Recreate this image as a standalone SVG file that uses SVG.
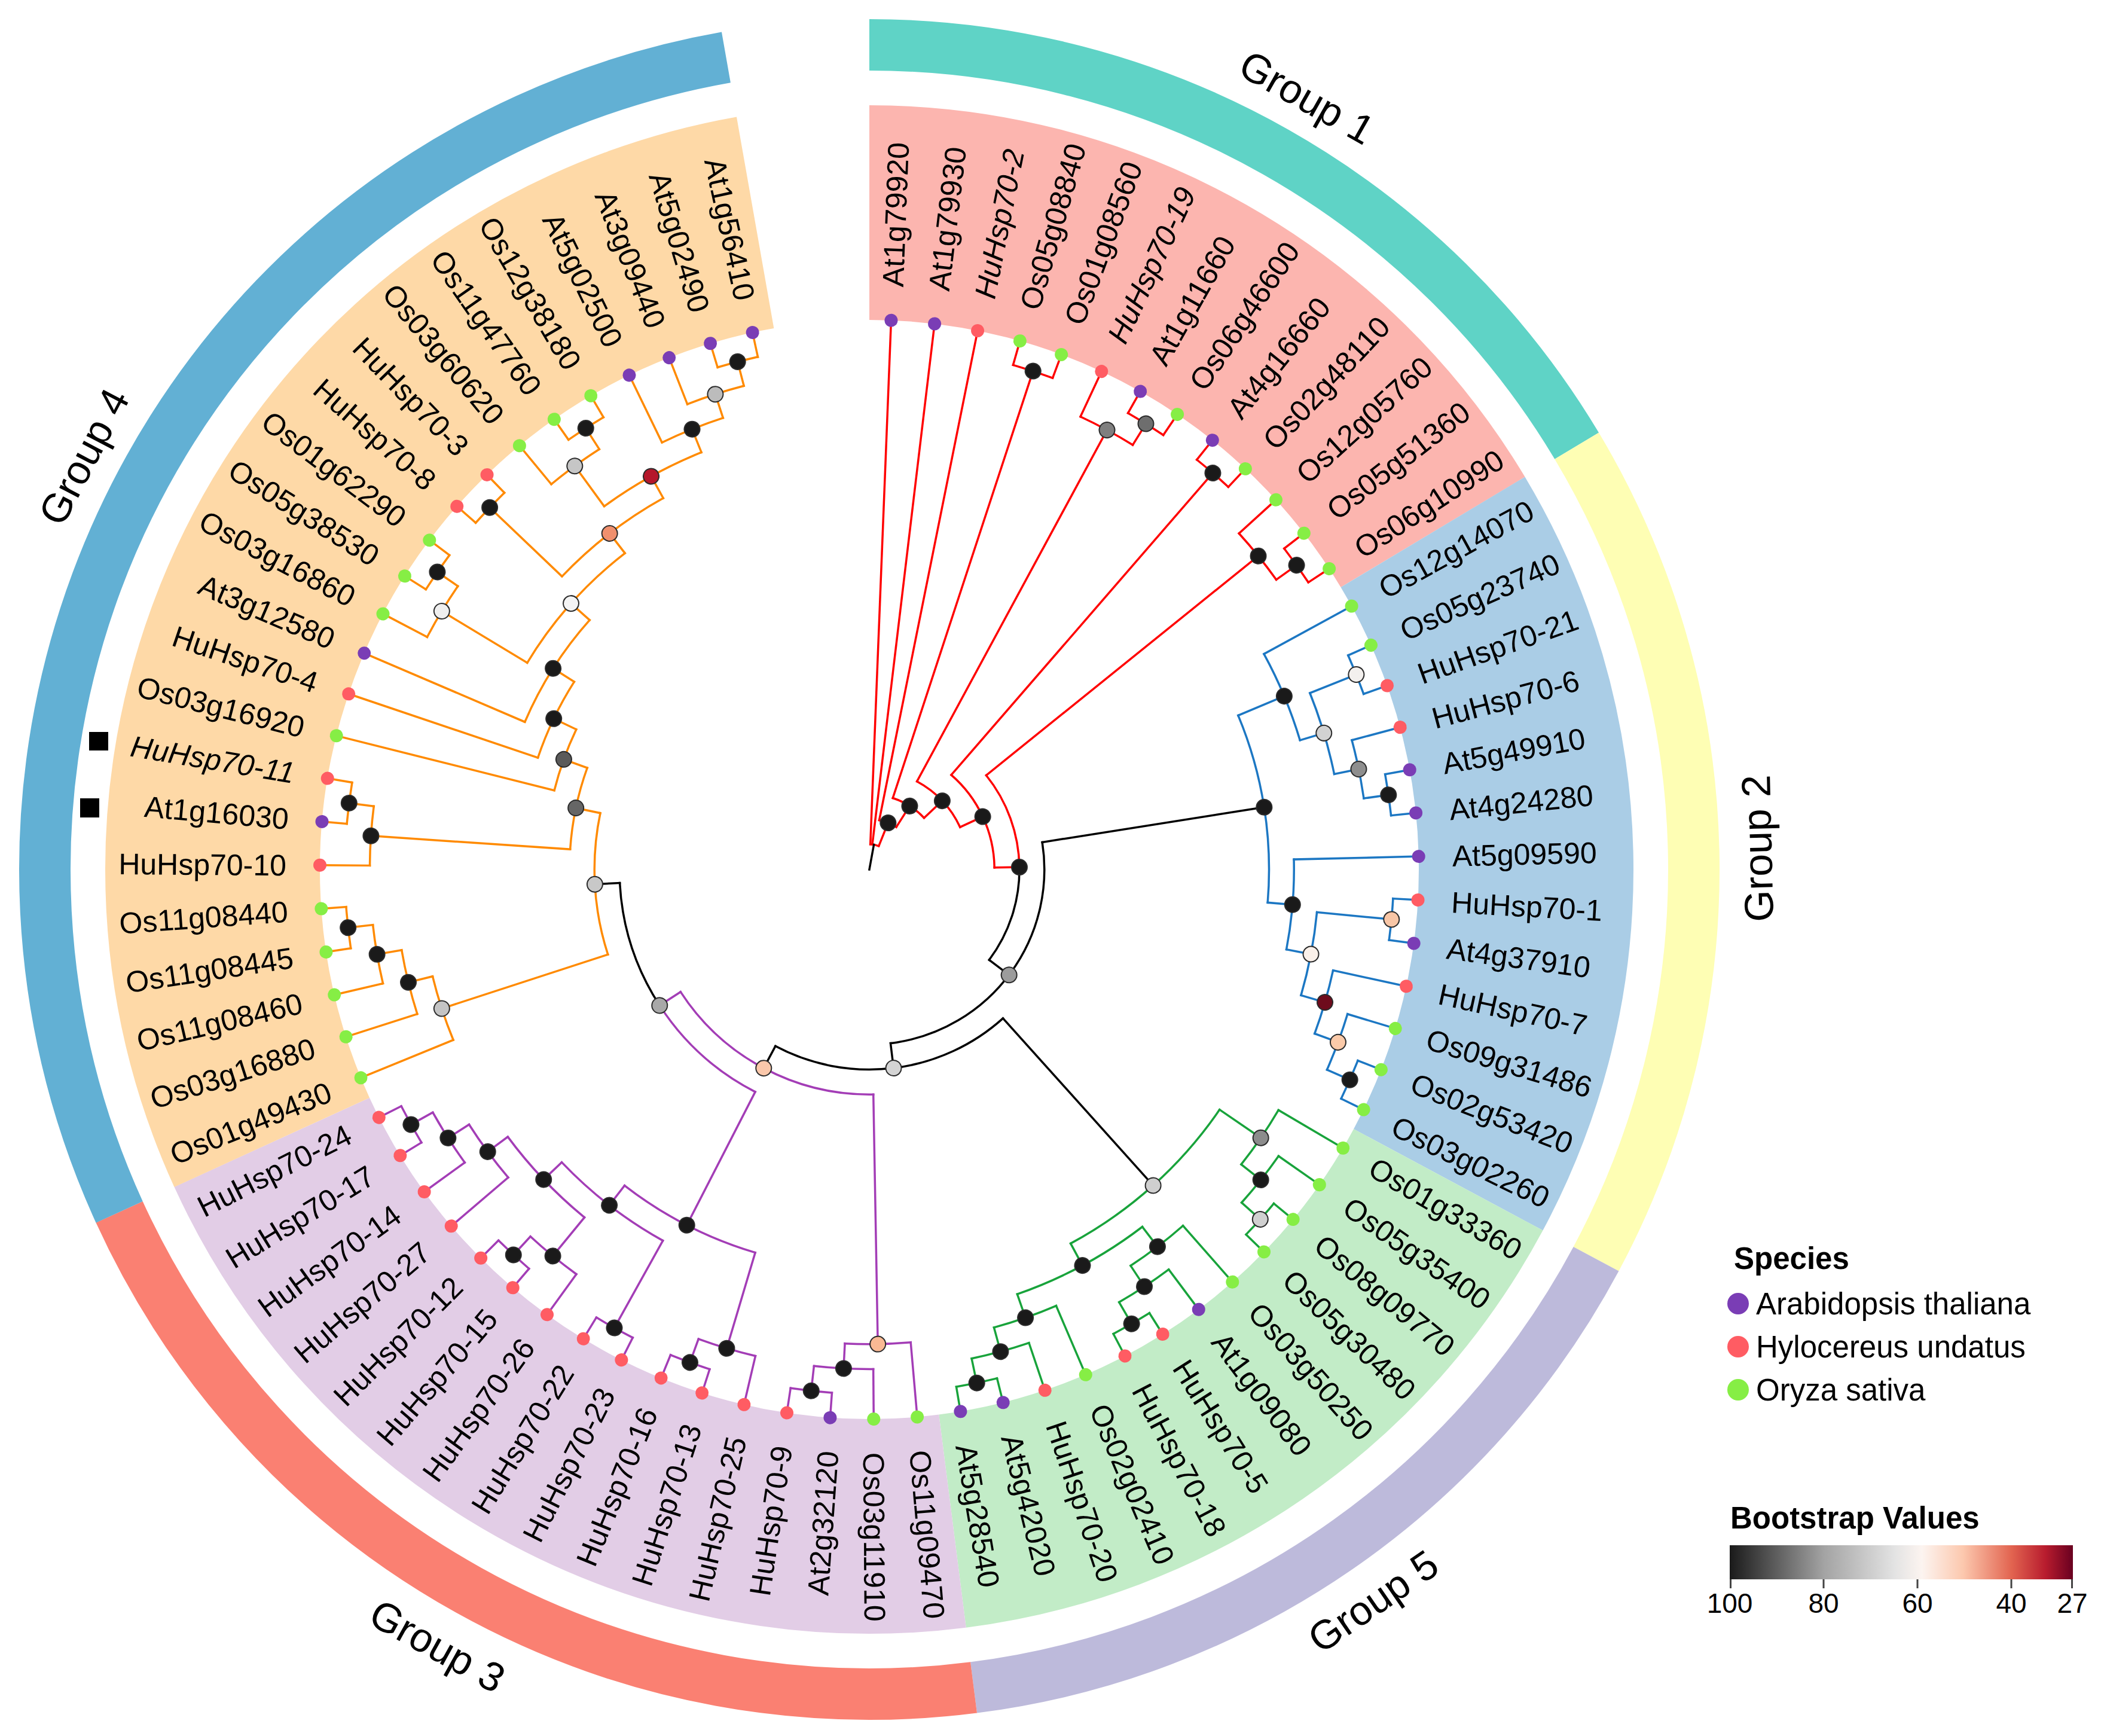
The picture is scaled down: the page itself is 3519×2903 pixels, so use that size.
<svg xmlns="http://www.w3.org/2000/svg" width="3519" height="2903" viewBox="0 0 3519 2903">
<defs>
<linearGradient id="bs" x1="0" x2="1" y1="0" y2="0">
<stop offset="0" stop-color="#1a1a1a"/><stop offset="0.274" stop-color="#a3a3a3"/><stop offset="0.48" stop-color="#e3e3e3"/><stop offset="0.56" stop-color="#fcf4f0"/><stop offset="0.68" stop-color="#fcc8ae"/><stop offset="0.821" stop-color="#e26450"/><stop offset="0.92" stop-color="#b81c2e"/><stop offset="1" stop-color="#690020"/>
</linearGradient>
<style>
text{font-family:"Liberation Sans",Arial,Helvetica,sans-serif;fill:#000}
.lb{font-size:50px}
.it{font-style:italic}
.gl{font-size:68px}
.c line,.c circle{fill:none;stroke-width:3.5;stroke-linecap:square}
.R{stroke:#ff0000}.B{stroke:#1c77c3}.G{stroke:#18a33b}.P{stroke:#a33db6}.O{stroke:#ff8a00}.K{stroke:#000}
.n{stroke:#2b2b2b;stroke-width:2}
.sa{fill:#7a3db5}.sh{fill:#ff5c63}.so{fill:#86ee45}
.band{fill:none;stroke-width:86}
.wedge{fill:none;stroke-width:359}
.lg{font-size:51px}
.bt{font-size:51px;font-weight:bold}
.tk{font-size:46px}
</style>
</defs>
<rect width="3519" height="2903" fill="#fff"/>
<g transform="translate(1454 1454)">
<g id="bands">
<circle class="band" r="1379" pathLength="360" stroke-dasharray="59.091 400" stroke="#5fd3c6" transform="rotate(-90)"/>
<circle class="band" r="1379" pathLength="360" stroke-dasharray="59.091 400" stroke="#fefeb4" transform="rotate(-30.909)"/>
<circle class="band" r="1379" pathLength="360" stroke-dasharray="54.545 400" stroke="#bdbadb" transform="rotate(28.182)"/>
<circle class="band" r="1379" pathLength="360" stroke-dasharray="72.728 400" stroke="#fa8072" transform="rotate(82.727)"/>
<circle class="band" r="1379" pathLength="360" stroke-dasharray="104.545 400" stroke="#62b0d4" transform="rotate(155.455)"/>
</g>
<g id="wedges">
<circle class="wedge" r="1098.5" pathLength="360" stroke-dasharray="59.091 400" stroke="#fcb5af" transform="rotate(-90)"/>
<circle class="wedge" r="1098.5" pathLength="360" stroke-dasharray="59.091 400" stroke="#aacde6" transform="rotate(-30.909)"/>
<circle class="wedge" r="1098.5" pathLength="360" stroke-dasharray="54.545 400" stroke="#c2ecc7" transform="rotate(28.182)"/>
<circle class="wedge" r="1098.5" pathLength="360" stroke-dasharray="72.728 400" stroke="#e2cde6" transform="rotate(82.727)"/>
<circle class="wedge" r="1098.5" pathLength="360" stroke-dasharray="104.545 400" stroke="#fed9a7" transform="rotate(155.455)"/>
</g>
<g id="group-labels">
<text class="gl" text-anchor="middle" y="-1485" dy=".36em" transform="rotate(29.545)">Group 1</text>
<text class="gl" text-anchor="middle" y="1485" dy=".36em" transform="rotate(-91.364)">Group 2</text>
<text class="gl" text-anchor="middle" y="1485" dy=".36em" transform="rotate(-34.545)">Group 5</text>
<text class="gl" text-anchor="middle" y="1485" dy=".36em" transform="rotate(29.091)">Group 3</text>
<text class="gl" text-anchor="middle" y="-1485" dy=".36em" transform="rotate(297.727)">Group 4</text>
</g>
<g id="connectors" class="c">
<g class="R">
<circle r="42.25" pathLength="360" stroke-dasharray="19.63 400" transform="rotate(-87.727)"/>
<circle r="84" pathLength="360" stroke-dasharray="21.079 400" transform="rotate(-78.636)"/>
<circle r="125.75" pathLength="360" stroke-dasharray="28.522 400" transform="rotate(-71.818)"/>
<circle r="167.5" pathLength="360" stroke-dasharray="36.589 400" transform="rotate(-61.591)"/>
<circle r="209.25" pathLength="360" stroke-dasharray="48.178 400" transform="rotate(-49.091)"/>
<circle r="251" pathLength="360" stroke-dasharray="37.951 400" transform="rotate(-38.864)"/>
<circle r="877.25" pathLength="360" stroke-dasharray="4.546 400" transform="rotate(-74.091)"/>
<circle r="835.5" pathLength="360" stroke-dasharray="6.818 400" transform="rotate(-65)"/>
<circle r="877.25" pathLength="360" stroke-dasharray="4.546 400" transform="rotate(-60.455)"/>
<circle r="877.25" pathLength="360" stroke-dasharray="4.546 400" transform="rotate(-51.364)"/>
<circle r="835.5" pathLength="360" stroke-dasharray="6.818 400" transform="rotate(-42.273)"/>
<circle r="877.25" pathLength="360" stroke-dasharray="4.545 400" transform="rotate(-37.727)"/>
<line y1="-42.25" y2="-919" transform="rotate(2.273)"/>
<line y1="-42.25" y2="-919" transform="rotate(6.818)"/>
<line y1="-42.25" y2="-84" transform="rotate(21.903)"/>
<line y1="-84" y2="-919" transform="rotate(11.364)"/>
<line y1="-84" y2="-125.75" transform="rotate(32.443)"/>
<line y1="-125.75" y2="-877.25" transform="rotate(18.182)"/>
<line y1="-125.75" y2="-167.5" transform="rotate(46.704)"/>
<line y1="-167.5" y2="-835.5" transform="rotate(28.409)"/>
<line y1="-167.5" y2="-209.25" transform="rotate(64.998)"/>
<line y1="-209.25" y2="-877.25" transform="rotate(40.909)"/>
<line y1="-209.25" y2="-251" transform="rotate(89.087)"/>
<line y1="-251" y2="-835.5" transform="rotate(51.136)"/>
<line y1="-877.25" y2="-919" transform="rotate(15.909)"/>
<line y1="-877.25" y2="-919" transform="rotate(20.455)"/>
<line y1="-835.5" y2="-919" transform="rotate(25)"/>
<line y1="-835.5" y2="-877.25" transform="rotate(31.818)"/>
<line y1="-877.25" y2="-919" transform="rotate(29.545)"/>
<line y1="-877.25" y2="-919" transform="rotate(34.091)"/>
<line y1="-877.25" y2="-919" transform="rotate(38.636)"/>
<line y1="-877.25" y2="-919" transform="rotate(43.182)"/>
<line y1="-835.5" y2="-919" transform="rotate(47.727)"/>
<line y1="-835.5" y2="-877.25" transform="rotate(54.545)"/>
<line y1="-877.25" y2="-919" transform="rotate(52.273)"/>
<line y1="-877.25" y2="-919" transform="rotate(56.818)"/>
</g>
<g class="K">
<line y1="0" y2="-42.25" transform="rotate(10.33)"/>
<circle r="251" pathLength="360" stroke-dasharray="37.952 400" transform="rotate(-0.913)"/>
<line y1="-251" y2="-292.75" transform="rotate(127.039)"/>
<circle r="292.75" pathLength="360" stroke-dasharray="92.003 400" transform="rotate(-8.963)"/>
<line y1="-292.75" y2="-668.5" transform="rotate(81.037)"/>
<line y1="-292.75" y2="-334.5" transform="rotate(173.04)"/>
<circle r="334.5" pathLength="360" stroke-dasharray="69.943 400" transform="rotate(48.068)"/>
<line y1="-334.5" y2="-710.25" transform="rotate(138.068)"/>
<line y1="-334.5" y2="-376.25" transform="rotate(208.011)"/>
<circle r="418" pathLength="360" stroke-dasharray="29.871 400" transform="rotate(147.044)"/>
<line y1="-418" y2="-459.75" transform="rotate(266.915)"/>
</g>
<g class="B">
<circle r="668.5" pathLength="360" stroke-dasharray="27.414 400" transform="rotate(-22.67)"/>
<line y1="-668.5" y2="-752" transform="rotate(67.33)"/>
<line y1="-668.5" y2="-710.25" transform="rotate(94.744)"/>
<circle r="752" pathLength="360" stroke-dasharray="11.931 400" transform="rotate(-28.636)"/>
<line y1="-752" y2="-919" transform="rotate(61.364)"/>
<line y1="-752" y2="-793.75" transform="rotate(73.295)"/>
<circle r="793.75" pathLength="360" stroke-dasharray="10.227 400" transform="rotate(-21.818)"/>
<line y1="-793.75" y2="-877.25" transform="rotate(68.182)"/>
<line y1="-793.75" y2="-835.5" transform="rotate(78.409)"/>
<circle r="877.25" pathLength="360" stroke-dasharray="4.546 400" transform="rotate(-24.091)"/>
<line y1="-877.25" y2="-919" transform="rotate(65.909)"/>
<line y1="-877.25" y2="-919" transform="rotate(70.455)"/>
<circle r="835.5" pathLength="360" stroke-dasharray="6.818 400" transform="rotate(-15)"/>
<line y1="-835.5" y2="-919" transform="rotate(75)"/>
<line y1="-835.5" y2="-877.25" transform="rotate(81.818)"/>
<circle r="877.25" pathLength="360" stroke-dasharray="4.546 400" transform="rotate(-10.455)"/>
<line y1="-877.25" y2="-919" transform="rotate(79.545)"/>
<line y1="-877.25" y2="-919" transform="rotate(84.091)"/>
<circle r="710.25" pathLength="360" stroke-dasharray="12.216 400" transform="rotate(-1.364)"/>
<line y1="-710.25" y2="-919" transform="rotate(88.636)"/>
<line y1="-710.25" y2="-752" transform="rotate(100.852)"/>
<circle r="752" pathLength="360" stroke-dasharray="10.795 400" transform="rotate(5.455)"/>
<line y1="-752" y2="-877.25" transform="rotate(95.455)"/>
<line y1="-752" y2="-793.75" transform="rotate(106.25)"/>
<circle r="877.25" pathLength="360" stroke-dasharray="4.545 400" transform="rotate(3.182)"/>
<line y1="-877.25" y2="-919" transform="rotate(93.182)"/>
<line y1="-877.25" y2="-919" transform="rotate(97.727)"/>
<circle r="793.75" pathLength="360" stroke-dasharray="7.954 400" transform="rotate(12.273)"/>
<line y1="-793.75" y2="-919" transform="rotate(102.273)"/>
<line y1="-793.75" y2="-835.5" transform="rotate(110.227)"/>
<circle r="835.5" pathLength="360" stroke-dasharray="6.818 400" transform="rotate(16.818)"/>
<line y1="-835.5" y2="-919" transform="rotate(106.818)"/>
<line y1="-835.5" y2="-877.25" transform="rotate(113.636)"/>
<circle r="877.25" pathLength="360" stroke-dasharray="4.545 400" transform="rotate(21.364)"/>
<line y1="-877.25" y2="-919" transform="rotate(111.364)"/>
<line y1="-877.25" y2="-919" transform="rotate(115.909)"/>
</g>
<g class="G">
<circle r="710.25" pathLength="360" stroke-dasharray="27.273 400" transform="rotate(34.432)"/>
<line y1="-710.25" y2="-793.75" transform="rotate(124.432)"/>
<line y1="-710.25" y2="-752" transform="rotate(151.705)"/>
<circle r="793.75" pathLength="360" stroke-dasharray="7.954 400" transform="rotate(30.455)"/>
<line y1="-793.75" y2="-919" transform="rotate(120.455)"/>
<line y1="-793.75" y2="-835.5" transform="rotate(128.409)"/>
<circle r="835.5" pathLength="360" stroke-dasharray="6.818 400" transform="rotate(35)"/>
<line y1="-835.5" y2="-919" transform="rotate(125)"/>
<line y1="-835.5" y2="-877.25" transform="rotate(131.818)"/>
<circle r="877.25" pathLength="360" stroke-dasharray="4.546 400" transform="rotate(39.545)"/>
<line y1="-877.25" y2="-919" transform="rotate(129.545)"/>
<line y1="-877.25" y2="-919" transform="rotate(134.091)"/>
<circle r="752" pathLength="360" stroke-dasharray="18.181 400" transform="rotate(52.614)"/>
<line y1="-752" y2="-793.75" transform="rotate(142.614)"/>
<line y1="-752" y2="-793.75" transform="rotate(160.795)"/>
<circle r="793.75" pathLength="360" stroke-dasharray="7.955 400" transform="rotate(48.636)"/>
<line y1="-793.75" y2="-919" transform="rotate(138.636)"/>
<line y1="-793.75" y2="-835.5" transform="rotate(146.591)"/>
<circle r="835.5" pathLength="360" stroke-dasharray="6.818 400" transform="rotate(53.182)"/>
<line y1="-835.5" y2="-919" transform="rotate(143.182)"/>
<line y1="-835.5" y2="-877.25" transform="rotate(150)"/>
<circle r="877.25" pathLength="360" stroke-dasharray="4.546 400" transform="rotate(57.727)"/>
<line y1="-877.25" y2="-919" transform="rotate(147.727)"/>
<line y1="-877.25" y2="-919" transform="rotate(152.273)"/>
<circle r="793.75" pathLength="360" stroke-dasharray="7.955 400" transform="rotate(66.818)"/>
<line y1="-793.75" y2="-919" transform="rotate(156.818)"/>
<line y1="-793.75" y2="-835.5" transform="rotate(164.773)"/>
<circle r="835.5" pathLength="360" stroke-dasharray="6.818 400" transform="rotate(71.364)"/>
<line y1="-835.5" y2="-919" transform="rotate(161.364)"/>
<line y1="-835.5" y2="-877.25" transform="rotate(168.182)"/>
<circle r="877.25" pathLength="360" stroke-dasharray="4.546 400" transform="rotate(75.909)"/>
<line y1="-877.25" y2="-919" transform="rotate(165.909)"/>
<line y1="-877.25" y2="-919" transform="rotate(170.455)"/>
</g>
<g class="P">
<circle r="376.25" pathLength="360" stroke-dasharray="58.067 400" transform="rotate(88.977)"/>
<line y1="-376.25" y2="-793.75" transform="rotate(178.977)"/>
<line y1="-376.25" y2="-418" transform="rotate(237.044)"/>
<circle r="418" pathLength="360" stroke-dasharray="29.871 400" transform="rotate(117.173)"/>
<line y1="-418" y2="-668.5" transform="rotate(207.173)"/>
<circle r="793.75" pathLength="360" stroke-dasharray="7.955 400" transform="rotate(85)"/>
<line y1="-793.75" y2="-919" transform="rotate(175)"/>
<line y1="-793.75" y2="-835.5" transform="rotate(182.955)"/>
<circle r="835.5" pathLength="360" stroke-dasharray="6.819 400" transform="rotate(89.545)"/>
<line y1="-835.5" y2="-919" transform="rotate(179.545)"/>
<line y1="-835.5" y2="-877.25" transform="rotate(186.364)"/>
<circle r="877.25" pathLength="360" stroke-dasharray="4.545 400" transform="rotate(94.091)"/>
<line y1="-877.25" y2="-919" transform="rotate(184.091)"/>
<line y1="-877.25" y2="-919" transform="rotate(188.636)"/>
<circle r="668.5" pathLength="360" stroke-dasharray="21.165 400" transform="rotate(106.591)"/>
<line y1="-668.5" y2="-835.5" transform="rotate(196.591)"/>
<line y1="-668.5" y2="-710.25" transform="rotate(217.756)"/>
<circle r="835.5" pathLength="360" stroke-dasharray="6.818 400" transform="rotate(103.182)"/>
<line y1="-835.5" y2="-919" transform="rotate(193.182)"/>
<line y1="-835.5" y2="-877.25" transform="rotate(200)"/>
<circle r="877.25" pathLength="360" stroke-dasharray="4.546 400" transform="rotate(107.727)"/>
<line y1="-877.25" y2="-919" transform="rotate(197.727)"/>
<line y1="-877.25" y2="-919" transform="rotate(202.273)"/>
<circle r="710.25" pathLength="360" stroke-dasharray="17.329 400" transform="rotate(119.091)"/>
<line y1="-710.25" y2="-877.25" transform="rotate(209.091)"/>
<line y1="-710.25" y2="-752" transform="rotate(226.42)"/>
<circle r="877.25" pathLength="360" stroke-dasharray="4.546 400" transform="rotate(116.818)"/>
<line y1="-877.25" y2="-919" transform="rotate(206.818)"/>
<line y1="-877.25" y2="-919" transform="rotate(211.364)"/>
<circle r="752" pathLength="360" stroke-dasharray="14.205 400" transform="rotate(129.318)"/>
<line y1="-752" y2="-835.5" transform="rotate(219.318)"/>
<line y1="-752" y2="-793.75" transform="rotate(233.523)"/>
<circle r="835.5" pathLength="360" stroke-dasharray="6.818 400" transform="rotate(125.909)"/>
<line y1="-835.5" y2="-919" transform="rotate(215.909)"/>
<line y1="-835.5" y2="-877.25" transform="rotate(222.727)"/>
<circle r="877.25" pathLength="360" stroke-dasharray="4.545 400" transform="rotate(130.455)"/>
<line y1="-877.25" y2="-919" transform="rotate(220.455)"/>
<line y1="-877.25" y2="-919" transform="rotate(225)"/>
<circle r="793.75" pathLength="360" stroke-dasharray="7.955 400" transform="rotate(139.545)"/>
<line y1="-793.75" y2="-919" transform="rotate(229.545)"/>
<line y1="-793.75" y2="-835.5" transform="rotate(237.5)"/>
<circle r="835.5" pathLength="360" stroke-dasharray="6.818 400" transform="rotate(144.091)"/>
<line y1="-835.5" y2="-919" transform="rotate(234.091)"/>
<line y1="-835.5" y2="-877.25" transform="rotate(240.909)"/>
<circle r="877.25" pathLength="360" stroke-dasharray="4.546 400" transform="rotate(148.636)"/>
<line y1="-877.25" y2="-919" transform="rotate(238.636)"/>
<line y1="-877.25" y2="-919" transform="rotate(243.182)"/>
</g>
<g class="O">
<circle r="459.75" pathLength="360" stroke-dasharray="29.851 400" transform="rotate(161.989)"/>
<line y1="-459.75" y2="-752" transform="rotate(251.989)"/>
<line y1="-459.75" y2="-501.5" transform="rotate(281.84)"/>
<circle r="752" pathLength="360" stroke-dasharray="8.523 400" transform="rotate(157.727)"/>
<line y1="-752" y2="-919" transform="rotate(247.727)"/>
<line y1="-752" y2="-793.75" transform="rotate(256.25)"/>
<circle r="793.75" pathLength="360" stroke-dasharray="7.954 400" transform="rotate(162.273)"/>
<line y1="-793.75" y2="-919" transform="rotate(252.273)"/>
<line y1="-793.75" y2="-835.5" transform="rotate(260.227)"/>
<circle r="835.5" pathLength="360" stroke-dasharray="6.818 400" transform="rotate(166.818)"/>
<line y1="-835.5" y2="-919" transform="rotate(256.818)"/>
<line y1="-835.5" y2="-877.25" transform="rotate(263.636)"/>
<circle r="877.25" pathLength="360" stroke-dasharray="4.545 400" transform="rotate(171.364)"/>
<line y1="-877.25" y2="-919" transform="rotate(261.364)"/>
<line y1="-877.25" y2="-919" transform="rotate(265.909)"/>
<circle r="501.5" pathLength="360" stroke-dasharray="15.953 400" transform="rotate(183.864)"/>
<line y1="-501.5" y2="-835.5" transform="rotate(273.864)"/>
<line y1="-501.5" y2="-543.25" transform="rotate(289.817)"/>
<circle r="835.5" pathLength="360" stroke-dasharray="6.818 400" transform="rotate(180.455)"/>
<line y1="-835.5" y2="-919" transform="rotate(270.455)"/>
<line y1="-835.5" y2="-877.25" transform="rotate(277.273)"/>
<circle r="877.25" pathLength="360" stroke-dasharray="4.545 400" transform="rotate(185)"/>
<line y1="-877.25" y2="-919" transform="rotate(275)"/>
<line y1="-877.25" y2="-919" transform="rotate(279.545)"/>
<circle r="543.25" pathLength="360" stroke-dasharray="11.452 400" transform="rotate(194.091)"/>
<line y1="-543.25" y2="-919" transform="rotate(284.091)"/>
<line y1="-543.25" y2="-585" transform="rotate(295.543)"/>
<circle r="585" pathLength="360" stroke-dasharray="13.814 400" transform="rotate(198.636)"/>
<line y1="-585" y2="-919" transform="rotate(288.636)"/>
<line y1="-585" y2="-626.75" transform="rotate(302.45)"/>
<circle r="626.75" pathLength="360" stroke-dasharray="18.537 400" transform="rotate(203.182)"/>
<line y1="-626.75" y2="-919" transform="rotate(293.182)"/>
<line y1="-626.75" y2="-668.5" transform="rotate(311.719)"/>
<circle r="668.5" pathLength="360" stroke-dasharray="21.165 400" transform="rotate(211.136)"/>
<line y1="-668.5" y2="-835.5" transform="rotate(301.136)"/>
<line y1="-668.5" y2="-710.25" transform="rotate(322.301)"/>
<circle r="835.5" pathLength="360" stroke-dasharray="6.818 400" transform="rotate(207.727)"/>
<line y1="-835.5" y2="-919" transform="rotate(297.727)"/>
<line y1="-835.5" y2="-877.25" transform="rotate(304.545)"/>
<circle r="877.25" pathLength="360" stroke-dasharray="4.545 400" transform="rotate(212.273)"/>
<line y1="-877.25" y2="-919" transform="rotate(302.273)"/>
<line y1="-877.25" y2="-919" transform="rotate(306.818)"/>
<circle r="710.25" pathLength="360" stroke-dasharray="17.33 400" transform="rotate(223.636)"/>
<line y1="-710.25" y2="-877.25" transform="rotate(313.636)"/>
<line y1="-710.25" y2="-752" transform="rotate(330.966)"/>
<circle r="877.25" pathLength="360" stroke-dasharray="4.545 400" transform="rotate(221.364)"/>
<line y1="-877.25" y2="-919" transform="rotate(311.364)"/>
<line y1="-877.25" y2="-919" transform="rotate(315.909)"/>
<circle r="752" pathLength="360" stroke-dasharray="14.204 400" transform="rotate(233.864)"/>
<line y1="-752" y2="-835.5" transform="rotate(323.864)"/>
<line y1="-752" y2="-793.75" transform="rotate(338.068)"/>
<circle r="835.5" pathLength="360" stroke-dasharray="6.818 400" transform="rotate(230.455)"/>
<line y1="-835.5" y2="-919" transform="rotate(320.455)"/>
<line y1="-835.5" y2="-877.25" transform="rotate(327.273)"/>
<circle r="877.25" pathLength="360" stroke-dasharray="4.545 400" transform="rotate(235)"/>
<line y1="-877.25" y2="-919" transform="rotate(325)"/>
<line y1="-877.25" y2="-919" transform="rotate(329.545)"/>
<circle r="793.75" pathLength="360" stroke-dasharray="7.954 400" transform="rotate(244.091)"/>
<line y1="-793.75" y2="-919" transform="rotate(334.091)"/>
<line y1="-793.75" y2="-835.5" transform="rotate(342.045)"/>
<circle r="835.5" pathLength="360" stroke-dasharray="6.819 400" transform="rotate(248.636)"/>
<line y1="-835.5" y2="-919" transform="rotate(338.636)"/>
<line y1="-835.5" y2="-877.25" transform="rotate(345.455)"/>
<circle r="877.25" pathLength="360" stroke-dasharray="4.545 400" transform="rotate(253.182)"/>
<line y1="-877.25" y2="-919" transform="rotate(343.182)"/>
<line y1="-877.25" y2="-919" transform="rotate(347.727)"/>
</g>
</g>
<g id="internal-nodes">
<g id="n-A"><circle class="n" fill="#1a1a1a" cy="-84" r="13" transform="rotate(21.903)"/></g>
<g id="n-B"><circle class="n" fill="#1a1a1a" cy="-125.75" r="13" transform="rotate(32.443)"/></g>
<g id="n-C"><circle class="n" fill="#1a1a1a" cy="-167.5" r="13" transform="rotate(46.704)"/></g>
<g id="n-D"><circle class="n" fill="#1a1a1a" cy="-209.25" r="13" transform="rotate(64.998)"/></g>
<g id="n-E"><circle class="n" fill="#1a1a1a" cy="-251" r="13" transform="rotate(89.087)"/></g>
<g id="n-3-4"><circle class="n" fill="#1a1a1a" cy="-877.25" r="13" transform="rotate(18.182)"/></g>
<g id="n-5-7"><circle class="n" fill="#7f7f7f" cy="-835.5" r="13" transform="rotate(28.409)"/></g>
<g id="n-6-7"><circle class="n" fill="#6e6e6e" cy="-877.25" r="13" transform="rotate(31.818)"/></g>
<g id="n-8-9"><circle class="n" fill="#1a1a1a" cy="-877.25" r="13" transform="rotate(40.909)"/></g>
<g id="n-10-12"><circle class="n" fill="#1a1a1a" cy="-835.5" r="13" transform="rotate(51.136)"/></g>
<g id="n-11-12"><circle class="n" fill="#1a1a1a" cy="-877.25" r="13" transform="rotate(54.545)"/></g>
<g id="n-G"><circle class="n" fill="#9c9c9c" cy="-292.75" r="13" transform="rotate(127.039)"/></g>
<g id="n-LG"><circle class="n" fill="#d4d4d4" cy="-334.5" r="13" transform="rotate(173.04)"/></g>
<g id="n-P"><circle class="n" fill="#fbc8ab" cy="-376.25" r="13" transform="rotate(208.011)"/></g>
<g id="n-GN"><circle class="n" fill="#a8a8a8" cy="-418" r="13" transform="rotate(237.044)"/></g>
<g id="n-g2root"><circle class="n" fill="#1a1a1a" cy="-668.5" r="13" transform="rotate(81.037)"/></g>
<g id="n-g2a"><circle class="n" fill="#1a1a1a" cy="-752" r="13" transform="rotate(67.33)"/></g>
<g id="n-g2lg"><circle class="n" fill="#d2d2d2" cy="-793.75" r="13" transform="rotate(73.295)"/></g>
<g id="n-14-15"><circle class="n" fill="#f3f0ee" cy="-877.25" r="13" transform="rotate(68.182)"/></g>
<g id="n-16-18"><circle class="n" fill="#8e8e8e" cy="-835.5" r="13" transform="rotate(78.409)"/></g>
<g id="n-17-18"><circle class="n" fill="#1a1a1a" cy="-877.25" r="13" transform="rotate(81.818)"/></g>
<g id="n-g2b"><circle class="n" fill="#1a1a1a" cy="-710.25" r="13" transform="rotate(94.744)"/></g>
<g id="n-g2w"><circle class="n" fill="#fbf1ea" cy="-752" r="13" transform="rotate(100.852)"/></g>
<g id="n-20-21"><circle class="n" fill="#f8c6a6" cy="-877.25" r="13" transform="rotate(95.455)"/></g>
<g id="n-g2dr"><circle class="n" fill="#6e0b1c" cy="-793.75" r="13" transform="rotate(106.25)"/></g>
<g id="n-23-25"><circle class="n" fill="#fbcaa9" cy="-835.5" r="13" transform="rotate(110.227)"/></g>
<g id="n-24-25"><circle class="n" fill="#1a1a1a" cy="-877.25" r="13" transform="rotate(113.636)"/></g>
<g id="n-g5root"><circle class="n" fill="#cfcfcf" cy="-710.25" r="13" transform="rotate(138.068)"/></g>
<g id="n-g5a"><circle class="n" fill="#8c8c8c" cy="-793.75" r="13" transform="rotate(124.432)"/></g>
<g id="n-27-29"><circle class="n" fill="#1a1a1a" cy="-835.5" r="13" transform="rotate(128.409)"/></g>
<g id="n-28-29"><circle class="n" fill="#d0d0d0" cy="-877.25" r="13" transform="rotate(131.818)"/></g>
<g id="n-g5b"><circle class="n" fill="#1a1a1a" cy="-752" r="13" transform="rotate(151.705)"/></g>
<g id="n-30-33"><circle class="n" fill="#1a1a1a" cy="-793.75" r="13" transform="rotate(142.614)"/></g>
<g id="n-31-33"><circle class="n" fill="#1a1a1a" cy="-835.5" r="13" transform="rotate(146.591)"/></g>
<g id="n-32-33"><circle class="n" fill="#1a1a1a" cy="-877.25" r="13" transform="rotate(150)"/></g>
<g id="n-34-37"><circle class="n" fill="#1a1a1a" cy="-793.75" r="13" transform="rotate(160.795)"/></g>
<g id="n-35-37"><circle class="n" fill="#1a1a1a" cy="-835.5" r="13" transform="rotate(164.773)"/></g>
<g id="n-36-37"><circle class="n" fill="#1a1a1a" cy="-877.25" r="13" transform="rotate(168.182)"/></g>
<g id="n-38-41"><circle class="n" fill="#f9b994" cy="-793.75" r="13" transform="rotate(178.977)"/></g>
<g id="n-39-41"><circle class="n" fill="#1a1a1a" cy="-835.5" r="13" transform="rotate(182.955)"/></g>
<g id="n-40-41"><circle class="n" fill="#1a1a1a" cy="-877.25" r="13" transform="rotate(186.364)"/></g>
<g id="n-42-53"><circle class="n" fill="#1a1a1a" cy="-668.5" r="13" transform="rotate(207.173)"/></g>
<g id="n-42-44"><circle class="n" fill="#1a1a1a" cy="-835.5" r="13" transform="rotate(196.591)"/></g>
<g id="n-43-44"><circle class="n" fill="#1a1a1a" cy="-877.25" r="13" transform="rotate(200)"/></g>
<g id="n-45-53"><circle class="n" fill="#1a1a1a" cy="-710.25" r="13" transform="rotate(217.756)"/></g>
<g id="n-45-46"><circle class="n" fill="#1a1a1a" cy="-877.25" r="13" transform="rotate(209.091)"/></g>
<g id="n-47-53"><circle class="n" fill="#1a1a1a" cy="-752" r="13" transform="rotate(226.42)"/></g>
<g id="n-47-49"><circle class="n" fill="#1a1a1a" cy="-835.5" r="13" transform="rotate(219.318)"/></g>
<g id="n-48-49"><circle class="n" fill="#1a1a1a" cy="-877.25" r="13" transform="rotate(222.727)"/></g>
<g id="n-50-53"><circle class="n" fill="#1a1a1a" cy="-793.75" r="13" transform="rotate(233.523)"/></g>
<g id="n-51-53"><circle class="n" fill="#1a1a1a" cy="-835.5" r="13" transform="rotate(237.5)"/></g>
<g id="n-52-53"><circle class="n" fill="#1a1a1a" cy="-877.25" r="13" transform="rotate(240.909)"/></g>
<g id="n-g4root"><circle class="n" fill="#c8c8c8" cy="-459.75" r="13" transform="rotate(266.915)"/></g>
<g id="n-54-58"><circle class="n" fill="#c4c4c4" cy="-752" r="13" transform="rotate(251.989)"/></g>
<g id="n-55-58"><circle class="n" fill="#1a1a1a" cy="-793.75" r="13" transform="rotate(256.25)"/></g>
<g id="n-56-58"><circle class="n" fill="#1a1a1a" cy="-835.5" r="13" transform="rotate(260.227)"/></g>
<g id="n-57-58"><circle class="n" fill="#1a1a1a" cy="-877.25" r="13" transform="rotate(263.636)"/></g>
<g id="n-59-76"><circle class="n" fill="#666666" cy="-501.5" r="13" transform="rotate(281.84)"/></g>
<g id="n-59-61"><circle class="n" fill="#1a1a1a" cy="-835.5" r="13" transform="rotate(273.864)"/></g>
<g id="n-60-61"><circle class="n" fill="#1a1a1a" cy="-877.25" r="13" transform="rotate(277.273)"/></g>
<g id="n-62-76"><circle class="n" fill="#5a5a5a" cy="-543.25" r="13" transform="rotate(289.817)"/></g>
<g id="n-63-76"><circle class="n" fill="#1a1a1a" cy="-585" r="13" transform="rotate(295.543)"/></g>
<g id="n-64-76"><circle class="n" fill="#1a1a1a" cy="-626.75" r="13" transform="rotate(302.45)"/></g>
<g id="n-65-76"><circle class="n" fill="#f4f4f4" cy="-668.5" r="13" transform="rotate(311.719)"/></g>
<g id="n-65-67"><circle class="n" fill="#efefef" cy="-835.5" r="13" transform="rotate(301.136)"/></g>
<g id="n-66-67"><circle class="n" fill="#1a1a1a" cy="-877.25" r="13" transform="rotate(304.545)"/></g>
<g id="n-68-76"><circle class="n" fill="#f0906e" cy="-710.25" r="13" transform="rotate(322.301)"/></g>
<g id="n-68-69"><circle class="n" fill="#1a1a1a" cy="-877.25" r="13" transform="rotate(313.636)"/></g>
<g id="n-70-76"><circle class="n" fill="#b5172b" cy="-752" r="13" transform="rotate(330.966)"/></g>
<g id="n-70-72"><circle class="n" fill="#c6c6c6" cy="-835.5" r="13" transform="rotate(323.864)"/></g>
<g id="n-71-72"><circle class="n" fill="#1a1a1a" cy="-877.25" r="13" transform="rotate(327.273)"/></g>
<g id="n-73-76"><circle class="n" fill="#1a1a1a" cy="-793.75" r="13" transform="rotate(338.068)"/></g>
<g id="n-74-76"><circle class="n" fill="#bcbcbc" cy="-835.5" r="13" transform="rotate(342.045)"/></g>
<g id="n-75-76"><circle class="n" fill="#1a1a1a" cy="-877.25" r="13" transform="rotate(345.455)"/></g>
</g>
<g id="leaves">
<g id="leaf-At1g79920"><circle class="sa" cy="-919" r="11" transform="rotate(2.273)"/><text class="lb" x="975" dy=".36em" transform="rotate(-87.727)">At1g79920</text></g>
<g id="leaf-At1g79930"><circle class="sa" cy="-919" r="11" transform="rotate(6.818)"/><text class="lb" x="975" dy=".36em" transform="rotate(-83.182)">At1g79930</text></g>
<g id="leaf-HuHsp70-2"><circle class="sh" cy="-919" r="11" transform="rotate(11.364)"/><text class="lb it" x="975" dy=".36em" transform="rotate(-78.636)">HuHsp70-2</text></g>
<g id="leaf-Os05g08840"><circle class="so" cy="-919" r="11" transform="rotate(15.909)"/><text class="lb" x="975" dy=".36em" transform="rotate(-74.091)">Os05g08840</text></g>
<g id="leaf-Os01g08560"><circle class="so" cy="-919" r="11" transform="rotate(20.455)"/><text class="lb" x="975" dy=".36em" transform="rotate(-69.545)">Os01g08560</text></g>
<g id="leaf-HuHsp70-19"><circle class="sh" cy="-919" r="11" transform="rotate(25)"/><text class="lb it" x="975" dy=".36em" transform="rotate(-65)">HuHsp70-19</text></g>
<g id="leaf-At1g11660"><circle class="sa" cy="-919" r="11" transform="rotate(29.545)"/><text class="lb" x="975" dy=".36em" transform="rotate(-60.455)">At1g11660</text></g>
<g id="leaf-Os06g46600"><circle class="so" cy="-919" r="11" transform="rotate(34.091)"/><text class="lb" x="975" dy=".36em" transform="rotate(-55.909)">Os06g46600</text></g>
<g id="leaf-At4g16660"><circle class="sa" cy="-919" r="11" transform="rotate(38.636)"/><text class="lb" x="975" dy=".36em" transform="rotate(-51.364)">At4g16660</text></g>
<g id="leaf-Os02g48110"><circle class="so" cy="-919" r="11" transform="rotate(43.182)"/><text class="lb" x="975" dy=".36em" transform="rotate(-46.818)">Os02g48110</text></g>
<g id="leaf-Os12g05760"><circle class="so" cy="-919" r="11" transform="rotate(47.727)"/><text class="lb" x="975" dy=".36em" transform="rotate(-42.273)">Os12g05760</text></g>
<g id="leaf-Os05g51360"><circle class="so" cy="-919" r="11" transform="rotate(52.273)"/><text class="lb" x="975" dy=".36em" transform="rotate(-37.727)">Os05g51360</text></g>
<g id="leaf-Os06g10990"><circle class="so" cy="-919" r="11" transform="rotate(56.818)"/><text class="lb" x="975" dy=".36em" transform="rotate(-33.182)">Os06g10990</text></g>
<g id="leaf-Os12g14070"><circle class="so" cy="-919" r="11" transform="rotate(61.364)"/><text class="lb" x="975" dy=".36em" transform="rotate(-28.636)">Os12g14070</text></g>
<g id="leaf-Os05g23740"><circle class="so" cy="-919" r="11" transform="rotate(65.909)"/><text class="lb" x="975" dy=".36em" transform="rotate(-24.091)">Os05g23740</text></g>
<g id="leaf-HuHsp70-21"><circle class="sh" cy="-919" r="11" transform="rotate(70.455)"/><text class="lb" x="975" dy=".36em" transform="rotate(-19.545)">HuHsp70-21</text></g>
<g id="leaf-HuHsp70-6"><circle class="sh" cy="-919" r="11" transform="rotate(75)"/><text class="lb" x="975" dy=".36em" transform="rotate(-15)">HuHsp70-6</text></g>
<g id="leaf-At5g49910"><circle class="sa" cy="-919" r="11" transform="rotate(79.545)"/><text class="lb" x="975" dy=".36em" transform="rotate(-10.455)">At5g49910</text></g>
<g id="leaf-At4g24280"><circle class="sa" cy="-919" r="11" transform="rotate(84.091)"/><text class="lb" x="975" dy=".36em" transform="rotate(-5.909)">At4g24280</text></g>
<g id="leaf-At5g09590"><circle class="sa" cy="-919" r="11" transform="rotate(88.636)"/><text class="lb" x="975" dy=".36em" transform="rotate(-1.364)">At5g09590</text></g>
<g id="leaf-HuHsp70-1"><circle class="sh" cy="-919" r="11" transform="rotate(93.182)"/><text class="lb" x="975" dy=".36em" transform="rotate(3.182)">HuHsp70-1</text></g>
<g id="leaf-At4g37910"><circle class="sa" cy="-919" r="11" transform="rotate(97.727)"/><text class="lb" x="975" dy=".36em" transform="rotate(7.727)">At4g37910</text></g>
<g id="leaf-HuHsp70-7"><circle class="sh" cy="-919" r="11" transform="rotate(102.273)"/><text class="lb" x="975" dy=".36em" transform="rotate(12.273)">HuHsp70-7</text></g>
<g id="leaf-Os09g31486"><circle class="so" cy="-919" r="11" transform="rotate(106.818)"/><text class="lb" x="975" dy=".36em" transform="rotate(16.818)">Os09g31486</text></g>
<g id="leaf-Os02g53420"><circle class="so" cy="-919" r="11" transform="rotate(111.364)"/><text class="lb" x="975" dy=".36em" transform="rotate(21.364)">Os02g53420</text></g>
<g id="leaf-Os03g02260"><circle class="so" cy="-919" r="11" transform="rotate(115.909)"/><text class="lb" x="975" dy=".36em" transform="rotate(25.909)">Os03g02260</text></g>
<g id="leaf-Os01g33360"><circle class="so" cy="-919" r="11" transform="rotate(120.455)"/><text class="lb" x="975" dy=".36em" transform="rotate(30.455)">Os01g33360</text></g>
<g id="leaf-Os05g35400"><circle class="so" cy="-919" r="11" transform="rotate(125)"/><text class="lb" x="975" dy=".36em" transform="rotate(35)">Os05g35400</text></g>
<g id="leaf-Os08g09770"><circle class="so" cy="-919" r="11" transform="rotate(129.545)"/><text class="lb" x="975" dy=".36em" transform="rotate(39.545)">Os08g09770</text></g>
<g id="leaf-Os05g30480"><circle class="so" cy="-919" r="11" transform="rotate(134.091)"/><text class="lb" x="975" dy=".36em" transform="rotate(44.091)">Os05g30480</text></g>
<g id="leaf-Os03g50250"><circle class="so" cy="-919" r="11" transform="rotate(138.636)"/><text class="lb" x="975" dy=".36em" transform="rotate(48.636)">Os03g50250</text></g>
<g id="leaf-At1g09080"><circle class="sa" cy="-919" r="11" transform="rotate(143.182)"/><text class="lb" x="975" dy=".36em" transform="rotate(53.182)">At1g09080</text></g>
<g id="leaf-HuHsp70-5"><circle class="sh" cy="-919" r="11" transform="rotate(147.727)"/><text class="lb" x="975" dy=".36em" transform="rotate(57.727)">HuHsp70-5</text></g>
<g id="leaf-HuHsp70-18"><circle class="sh" cy="-919" r="11" transform="rotate(152.273)"/><text class="lb" x="975" dy=".36em" transform="rotate(62.273)">HuHsp70-18</text></g>
<g id="leaf-Os02g02410"><circle class="so" cy="-919" r="11" transform="rotate(156.818)"/><text class="lb" x="975" dy=".36em" transform="rotate(66.818)">Os02g02410</text></g>
<g id="leaf-HuHsp70-20"><circle class="sh" cy="-919" r="11" transform="rotate(161.364)"/><text class="lb" x="975" dy=".36em" transform="rotate(71.364)">HuHsp70-20</text></g>
<g id="leaf-At5g42020"><circle class="sa" cy="-919" r="11" transform="rotate(165.909)"/><text class="lb" x="975" dy=".36em" transform="rotate(75.909)">At5g42020</text></g>
<g id="leaf-At5g28540"><circle class="sa" cy="-919" r="11" transform="rotate(170.455)"/><text class="lb" x="975" dy=".36em" transform="rotate(80.455)">At5g28540</text></g>
<g id="leaf-Os11g09470"><circle class="so" cy="-919" r="11" transform="rotate(175)"/><text class="lb" x="975" dy=".36em" transform="rotate(85)">Os11g09470</text></g>
<g id="leaf-Os03g11910"><circle class="so" cy="-919" r="11" transform="rotate(179.545)"/><text class="lb" x="975" dy=".36em" transform="rotate(89.545)">Os03g11910</text></g>
<g id="leaf-At2g32120"><circle class="sa" cy="-919" r="11" transform="rotate(184.091)"/><text class="lb" x="-975" dy=".36em" text-anchor="end" transform="rotate(274.091)">At2g32120</text></g>
<g id="leaf-HuHsp70-9"><circle class="sh" cy="-919" r="11" transform="rotate(188.636)"/><text class="lb" x="-975" dy=".36em" text-anchor="end" transform="rotate(278.636)">HuHsp70-9</text></g>
<g id="leaf-HuHsp70-25"><circle class="sh" cy="-919" r="11" transform="rotate(193.182)"/><text class="lb" x="-975" dy=".36em" text-anchor="end" transform="rotate(283.182)">HuHsp70-25</text></g>
<g id="leaf-HuHsp70-13"><circle class="sh" cy="-919" r="11" transform="rotate(197.727)"/><text class="lb" x="-975" dy=".36em" text-anchor="end" transform="rotate(287.727)">HuHsp70-13</text></g>
<g id="leaf-HuHsp70-16"><circle class="sh" cy="-919" r="11" transform="rotate(202.273)"/><text class="lb" x="-975" dy=".36em" text-anchor="end" transform="rotate(292.273)">HuHsp70-16</text></g>
<g id="leaf-HuHsp70-23"><circle class="sh" cy="-919" r="11" transform="rotate(206.818)"/><text class="lb" x="-975" dy=".36em" text-anchor="end" transform="rotate(296.818)">HuHsp70-23</text></g>
<g id="leaf-HuHsp70-22"><circle class="sh" cy="-919" r="11" transform="rotate(211.364)"/><text class="lb" x="-975" dy=".36em" text-anchor="end" transform="rotate(301.364)">HuHsp70-22</text></g>
<g id="leaf-HuHsp70-26"><circle class="sh" cy="-919" r="11" transform="rotate(215.909)"/><text class="lb" x="-975" dy=".36em" text-anchor="end" transform="rotate(305.909)">HuHsp70-26</text></g>
<g id="leaf-HuHsp70-15"><circle class="sh" cy="-919" r="11" transform="rotate(220.455)"/><text class="lb" x="-975" dy=".36em" text-anchor="end" transform="rotate(310.455)">HuHsp70-15</text></g>
<g id="leaf-HuHsp70-12"><circle class="sh" cy="-919" r="11" transform="rotate(225)"/><text class="lb" x="-975" dy=".36em" text-anchor="end" transform="rotate(315)">HuHsp70-12</text></g>
<g id="leaf-HuHsp70-27"><circle class="sh" cy="-919" r="11" transform="rotate(229.545)"/><text class="lb" x="-975" dy=".36em" text-anchor="end" transform="rotate(319.545)">HuHsp70-27</text></g>
<g id="leaf-HuHsp70-14"><circle class="sh" cy="-919" r="11" transform="rotate(234.091)"/><text class="lb" x="-975" dy=".36em" text-anchor="end" transform="rotate(324.091)">HuHsp70-14</text></g>
<g id="leaf-HuHsp70-17"><circle class="sh" cy="-919" r="11" transform="rotate(238.636)"/><text class="lb" x="-975" dy=".36em" text-anchor="end" transform="rotate(328.636)">HuHsp70-17</text></g>
<g id="leaf-HuHsp70-24"><circle class="sh" cy="-919" r="11" transform="rotate(243.182)"/><text class="lb" x="-975" dy=".36em" text-anchor="end" transform="rotate(333.182)">HuHsp70-24</text></g>
<g id="leaf-Os01g49430"><circle class="so" cy="-919" r="11" transform="rotate(247.727)"/><text class="lb" x="-975" dy=".36em" text-anchor="end" transform="rotate(337.727)">Os01g49430</text></g>
<g id="leaf-Os03g16880"><circle class="so" cy="-919" r="11" transform="rotate(252.273)"/><text class="lb" x="-975" dy=".36em" text-anchor="end" transform="rotate(342.273)">Os03g16880</text></g>
<g id="leaf-Os11g08460"><circle class="so" cy="-919" r="11" transform="rotate(256.818)"/><text class="lb" x="-975" dy=".36em" text-anchor="end" transform="rotate(346.818)">Os11g08460</text></g>
<g id="leaf-Os11g08445"><circle class="so" cy="-919" r="11" transform="rotate(261.364)"/><text class="lb" x="-975" dy=".36em" text-anchor="end" transform="rotate(351.364)">Os11g08445</text></g>
<g id="leaf-Os11g08440"><circle class="so" cy="-919" r="11" transform="rotate(265.909)"/><text class="lb" x="-975" dy=".36em" text-anchor="end" transform="rotate(355.909)">Os11g08440</text></g>
<g id="leaf-HuHsp70-10"><circle class="sh" cy="-919" r="11" transform="rotate(270.455)"/><text class="lb" x="-975" dy=".36em" text-anchor="end" transform="rotate(0.455)">HuHsp70-10</text></g>
<g id="leaf-At1g16030"><circle class="sa" cy="-919" r="11" transform="rotate(275)"/><text class="lb" x="-975" dy=".36em" text-anchor="end" transform="rotate(5)">At1g16030</text></g>
<g id="leaf-HuHsp70-11"><circle class="sh" cy="-919" r="11" transform="rotate(279.545)"/><text class="lb it" x="-975" dy=".36em" text-anchor="end" transform="rotate(9.545)">HuHsp70-11</text></g>
<g id="leaf-Os03g16920"><circle class="so" cy="-919" r="11" transform="rotate(284.091)"/><text class="lb" x="-975" dy=".36em" text-anchor="end" transform="rotate(14.091)">Os03g16920</text></g>
<g id="leaf-HuHsp70-4"><circle class="sh" cy="-919" r="11" transform="rotate(288.636)"/><text class="lb" x="-975" dy=".36em" text-anchor="end" transform="rotate(18.636)">HuHsp70-4</text></g>
<g id="leaf-At3g12580"><circle class="sa" cy="-919" r="11" transform="rotate(293.182)"/><text class="lb" x="-975" dy=".36em" text-anchor="end" transform="rotate(23.182)">At3g12580</text></g>
<g id="leaf-Os03g16860"><circle class="so" cy="-919" r="11" transform="rotate(297.727)"/><text class="lb" x="-975" dy=".36em" text-anchor="end" transform="rotate(27.727)">Os03g16860</text></g>
<g id="leaf-Os05g38530"><circle class="so" cy="-919" r="11" transform="rotate(302.273)"/><text class="lb" x="-975" dy=".36em" text-anchor="end" transform="rotate(32.273)">Os05g38530</text></g>
<g id="leaf-Os01g62290"><circle class="so" cy="-919" r="11" transform="rotate(306.818)"/><text class="lb" x="-975" dy=".36em" text-anchor="end" transform="rotate(36.818)">Os01g62290</text></g>
<g id="leaf-HuHsp70-8"><circle class="sh" cy="-919" r="11" transform="rotate(311.364)"/><text class="lb" x="-975" dy=".36em" text-anchor="end" transform="rotate(41.364)">HuHsp70-8</text></g>
<g id="leaf-HuHsp70-3"><circle class="sh" cy="-919" r="11" transform="rotate(315.909)"/><text class="lb" x="-975" dy=".36em" text-anchor="end" transform="rotate(45.909)">HuHsp70-3</text></g>
<g id="leaf-Os03g60620"><circle class="so" cy="-919" r="11" transform="rotate(320.455)"/><text class="lb" x="-975" dy=".36em" text-anchor="end" transform="rotate(50.455)">Os03g60620</text></g>
<g id="leaf-Os11g47760"><circle class="so" cy="-919" r="11" transform="rotate(325)"/><text class="lb" x="-975" dy=".36em" text-anchor="end" transform="rotate(55)">Os11g47760</text></g>
<g id="leaf-Os12g38180"><circle class="so" cy="-919" r="11" transform="rotate(329.545)"/><text class="lb" x="-975" dy=".36em" text-anchor="end" transform="rotate(59.545)">Os12g38180</text></g>
<g id="leaf-At5g02500"><circle class="sa" cy="-919" r="11" transform="rotate(334.091)"/><text class="lb" x="-975" dy=".36em" text-anchor="end" transform="rotate(64.091)">At5g02500</text></g>
<g id="leaf-At3g09440"><circle class="sa" cy="-919" r="11" transform="rotate(338.636)"/><text class="lb" x="-975" dy=".36em" text-anchor="end" transform="rotate(68.636)">At3g09440</text></g>
<g id="leaf-At5g02490"><circle class="sa" cy="-919" r="11" transform="rotate(343.182)"/><text class="lb" x="-975" dy=".36em" text-anchor="end" transform="rotate(73.182)">At5g02490</text></g>
<g id="leaf-At1g56410"><circle class="sa" cy="-919" r="11" transform="rotate(347.727)"/><text class="lb" x="-975" dy=".36em" text-anchor="end" transform="rotate(77.727)">At1g56410</text></g>
</g>
</g>
<g id="markers">
<rect x="149" y="1224" width="32" height="31" fill="#000"/>
<rect x="134" y="1335" width="32" height="32" fill="#000"/>
</g>
<g id="legend">
<text class="bt" x="2900" y="2122">Species</text>
<circle class="sa" cx="2907" cy="2180" r="18"/>
<text class="lg" x="2937" y="2198">Arabidopsis thaliana</text>
<circle class="sh" cx="2907" cy="2252" r="18"/>
<text class="lg" x="2937" y="2270">Hylocereus undatus</text>
<circle class="so" cx="2907" cy="2324" r="18"/>
<text class="lg" x="2937" y="2342">Oryza sativa</text>
<text class="bt" x="2894" y="2556">Bootstrap Values</text>
<rect x="2893" y="2584" width="574" height="57" fill="url(#bs)"/>
<g stroke="#444" stroke-width="3">
<line x1="2894.5" y1="2641" x2="2894.5" y2="2656"/>
<line x1="3050" y1="2641" x2="3050" y2="2656"/>
<line x1="3207" y1="2641" x2="3207" y2="2656"/>
<line x1="3364" y1="2641" x2="3364" y2="2656"/>
<line x1="3465.5" y1="2641" x2="3465.5" y2="2656"/>
</g>
<g class="tk" text-anchor="middle">
<text x="2893" y="2697">100</text>
<text x="3050" y="2697">80</text>
<text x="3207" y="2697">60</text>
<text x="3364" y="2697">40</text>
<text x="3466" y="2697">27</text>
</g>
</g>
</svg>
